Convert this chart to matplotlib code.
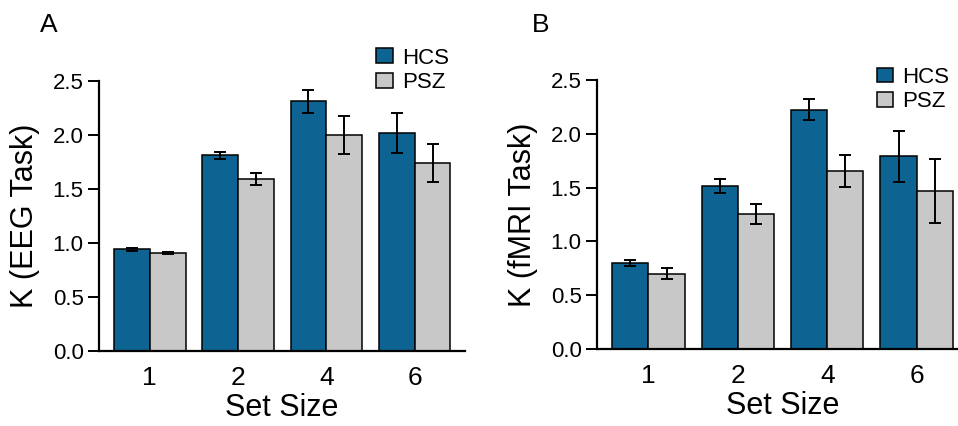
import numpy as np
import matplotlib
matplotlib.use('Agg')
import matplotlib.pyplot as plt

plt.rcParams['font.family'] = ['Liberation Sans', 'DejaVu Sans']

set_sizes = ['1', '2', '4', '6']
groups = ['HCS', 'PSZ']

# panel A, EEG task
eeg_hcs = [0.94, 1.81, 2.31, 2.02]
eeg_hcs_err = [0.01, 0.035, 0.11, 0.185]
eeg_psz = [0.91, 1.59, 2.00, 1.74]
eeg_psz_err = [0.01, 0.055, 0.18, 0.175]

# panel B, fMRI task
fmri_hcs = [0.80, 1.515, 2.225, 1.79]
fmri_hcs_err = [0.03, 0.065, 0.095, 0.24]
fmri_psz = [0.70, 1.255, 1.655, 1.47]
fmri_psz_err = [0.05, 0.095, 0.15, 0.295]

blue = '#0d6391'
grey = '#c8c8c8'

fig = plt.figure(figsize=(9.58, 4.26), dpi=100)
axA = fig.add_axes([0.1033, 0.176, 0.3821, 0.634])
axB = fig.add_axes([0.6232, 0.181, 0.3868, 0.631])


def panel(ax, hcs, hcs_err, psz, psz_err, ylab):
    x = np.arange(len(set_sizes))
    w = 0.405
    ekw = dict(elinewidth=1.4, capthick=1.4, ecolor='black')
    ax.bar(x - w/2, hcs, w, yerr=hcs_err, capsize=4.5, color=blue,
           edgecolor='black', linewidth=1.1, error_kw=ekw, label=groups[0])
    ax.bar(x + w/2, psz, w, yerr=psz_err, capsize=4.5, color=grey,
           edgecolor='black', linewidth=1.1, error_kw=ekw, label=groups[1])
    ax.set_xlim(-0.575, 3.57)
    ax.set_ylim(0, 2.5)
    ax.set_yticks([0, 0.5, 1.0, 1.5, 2.0, 2.5])
    ax.set_yticklabels(['0.0', '0.5', '1.0', '1.5', '2.0', '2.5'])
    ax.set_xticks(x)
    ax.set_xticklabels(set_sizes)
    for s in ['top', 'right']:
        ax.spines[s].set_visible(False)
    ax.spines['left'].set_linewidth(1.6)
    ax.spines['bottom'].set_linewidth(1.6)
    ax.tick_params(axis='y', length=8, width=1.4, pad=3, labelsize=16)
    ax.tick_params(axis='x', length=0, pad=11, labelsize=19)
    ax.set_xlabel('Set Size', fontsize=22, labelpad=2)
    ax.set_ylabel(ylab, fontsize=22, labelpad=9)


panel(axA, eeg_hcs, eeg_hcs_err, eeg_psz, eeg_psz_err, 'K (EEG Task)')
panel(axB, fmri_hcs, fmri_hcs_err, fmri_psz, fmri_psz_err, 'K (fMRI Task)')

for ax, pos in [(axA, (0.393, 0.888)), (axB, (0.915, 0.843))]:
    h, l = ax.get_legend_handles_labels()
    fig.legend(h, l, loc='upper left', bbox_to_anchor=pos, frameon=False,
               fontsize=16, handlelength=0.75, handleheight=0.65,
               handletextpad=0.4, labelspacing=0.15, borderpad=0,
               borderaxespad=0)

fig.text(40/958, 1 - 13/426, 'A', fontsize=19, va='top', ha='left')
fig.text(532/958, 1 - 13/426, 'B', fontsize=19, va='top', ha='left')

fig.savefig('out.png', dpi=100)
